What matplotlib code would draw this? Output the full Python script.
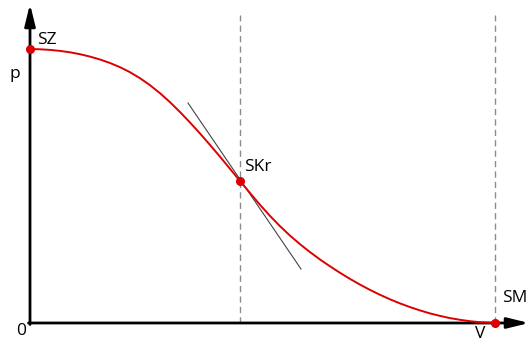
import matplotlib
matplotlib.use("Agg")
import matplotlib.pyplot as plt

# curve (V, p) - units are roughly pixels from the origin
curve_v = [0, 10, 20, 30, 40, 50, 60, 70, 80, 90, 100, 110, 120, 130, 140,
           150, 160, 170, 180, 190, 200, 210, 220, 230, 240, 250, 260, 270,
           280, 290, 300, 310, 320, 330, 340, 350, 360, 370, 380, 390, 400,
           410, 420, 430, 440, 450, 460, 465]
curve_p = [274, 273.7, 273.1, 272.1, 270.7, 268.8, 266.4, 263.5, 260.0, 255.8,
           250.8, 244.8, 237.8, 229.8, 220.8, 211.0, 200.5, 189.5, 178.1,
           166.3, 154.2, 142.0, 130.0, 118.2, 107.1, 96.8, 87.4, 78.8, 70.9,
           63.5, 56.7, 50.2, 44.1, 38.4, 33.1, 28.2, 23.7, 19.6, 15.9, 12.6,
           9.6, 7.1, 4.9, 3.2, 1.8, 0.8, 0.2, 0]

# named points
point_names = ["SZ", "SKr", "SM"]
point_v = [0, 210, 465]
point_p = [274, 142, 0]

# tangent through SKr (end points)
tangent_v = [158, 271]
tangent_p = [220, 54]

# vertical dashed guides
guide_v = [210, 465]
guide_top = 308

plt.rcParams['font.family'] = ['Open Sans', 'DejaVu Sans']

fig = plt.figure(figsize=(5.3, 3.42), dpi=100)
ax = fig.add_axes([0, 0, 1, 1])
ax.set_xlim(-30, 500)
ax.set_ylim(-19, 323)
ax.axis('off')

# guides
for gv in guide_v:
    ax.plot([gv, gv], [0, guide_top], color='#8c8c8c', lw=1.0,
            dashes=(4.5, 3), zorder=1)

# axes with arrows
ax.annotate('', xy=(0, 319), xytext=(0, -1.5),
            arrowprops=dict(arrowstyle='-|>,head_length=1.3,head_width=0.32',
                            mutation_scale=10, lw=2.0, color='black',
                            shrinkA=0, shrinkB=0), zorder=2)
ax.annotate('', xy=(499, 0), xytext=(-1.5, 0),
            arrowprops=dict(arrowstyle='-|>,head_length=1.3,head_width=0.32',
                            mutation_scale=10, lw=2.0, color='black',
                            shrinkA=0, shrinkB=0), zorder=2)

# tangent
ax.plot(tangent_v, tangent_p, color='#444444', lw=0.8, zorder=3)

# curve
ax.plot(curve_v, curve_p, color='#dd0000', lw=1.4, zorder=4,
        solid_joinstyle='round', solid_capstyle='round')

# points
ax.plot(point_v, point_p, 'o', color='#dd0000', ms=5.5, zorder=5)

fs = 12.5
ax.text(7, 283, "SZ", fontsize=fs, ha='left', va='center')
ax.text(214, 156, "SKr", fontsize=fs, ha='left', va='center')
ax.text(472, 25, "SM", fontsize=fs, ha='left', va='center')
ax.text(-15, 249, "p", fontsize=fs, ha='center', va='center')
ax.text(-9, -8, "0", fontsize=fs, ha='center', va='center')
ax.text(450, -11, "V", fontsize=fs, ha='center', va='center')

fig.savefig("out.png", dpi=100)
